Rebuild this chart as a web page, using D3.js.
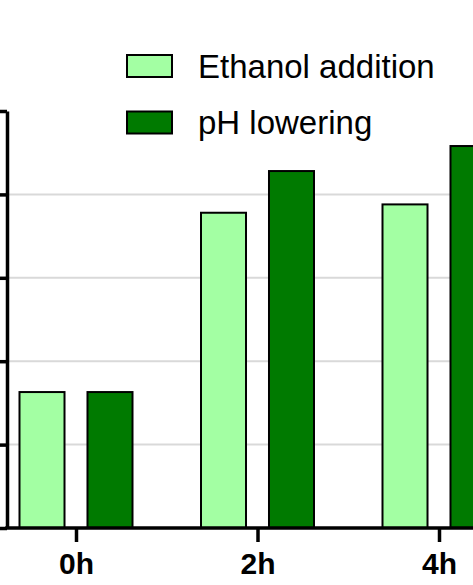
<!DOCTYPE html>
<html><head><meta charset="utf-8">
<script src="https://cdn.jsdelivr.net/npm/d3@7"></script>
<style>body{margin:0;background:#fff}svg{display:block}</style>
</head><body>
<script>
const categories = ["0h", "2h", "4h"];
const seriesNames = ["Ethanol addition", "pH lowering"];
const ethanolValues = [1.63, 3.78, 3.88];
const phValues = [1.63, 4.28, 4.58];
const yTicks = [0, 1, 2, 3, 4, 5];
const gridTicks = [1, 2, 3, 4];
const colors = ["#a3ffa3", "#007a00"];

const W = 473, H = 585;
const svg = d3.select("body").append("svg").attr("width", W).attr("height", H);
const font = "'Liberation Sans', Arial, sans-serif";

const y = d3.scaleLinear().domain([0, 5]).range([528, 111]);
const x = d3.scalePoint().domain(categories).range([76, 439]).padding(0);
const xs = d3.scaleBand().domain(seriesNames).range([-56.5, 56.5]).paddingInner(0.338).paddingOuter(0);
const axisX = 7;

// gridlines
svg.append("g").selectAll("line").data(gridTicks).join("line")
  .attr("x1", axisX).attr("x2", W).attr("y1", d => y(d)).attr("y2", d => y(d))
  .attr("stroke", "#d9d9d9").attr("stroke-width", 2);

// bars
const data = categories.map((c, i) => ({c, vals: [ethanolValues[i], phValues[i]]}));
const g = svg.append("g").selectAll("g").data(data).join("g")
  .attr("transform", d => `translate(${x(d.c)},0)`);
g.selectAll("rect").data(d => d.vals.map((v, j) => ({v, s: seriesNames[j], j}))).join("rect")
  .attr("x", d => xs(d.s)).attr("width", xs.bandwidth())
  .attr("y", d => y(d.v)).attr("height", d => y(0) - y(d.v))
  .attr("fill", d => colors[d.j]).attr("stroke", "#000").attr("stroke-width", 2);

// y axis
const yAxis = svg.append("g").attr("transform", `translate(${axisX},0)`)
  .call(d3.axisLeft(y).tickValues(yTicks).tickSize(8).tickSizeOuter(0).tickFormat(""));
yAxis.select(".domain").attr("stroke", "#000").attr("stroke-width", 3.5);
yAxis.selectAll(".tick line").attr("stroke", "#000").attr("stroke-width", 3.5);

// x axis
const xAxis = svg.append("g").attr("transform", `translate(0,${y(0)})`)
  .call(d3.axisBottom(x).tickSize(14).tickSizeOuter(0).tickPadding(11));
xAxis.select(".domain").attr("d", `M${axisX - 1.75},0H${W + 5}`).attr("stroke", "#000").attr("stroke-width", 3.5);
xAxis.selectAll(".tick line").attr("stroke", "#000").attr("stroke-width", 3.5);
xAxis.selectAll(".tick text").attr("font-family", font).attr("font-size", 30)
  .attr("font-weight", "bold").attr("fill", "#000");

// legend
const leg = svg.append("g").selectAll("g").data(seriesNames).join("g")
  .attr("transform", (d, i) => `translate(127,${55 + i * 56.5})`);
leg.append("rect").attr("width", 45).attr("height", 22)
  .attr("fill", (d, i) => colors[i]).attr("stroke", "#000").attr("stroke-width", 2);
leg.append("text").attr("x", 71).attr("y", 22.7).text(d => d)
  .attr("font-family", font).attr("font-size", 33).attr("fill", "#000");
</script>
</body></html>
